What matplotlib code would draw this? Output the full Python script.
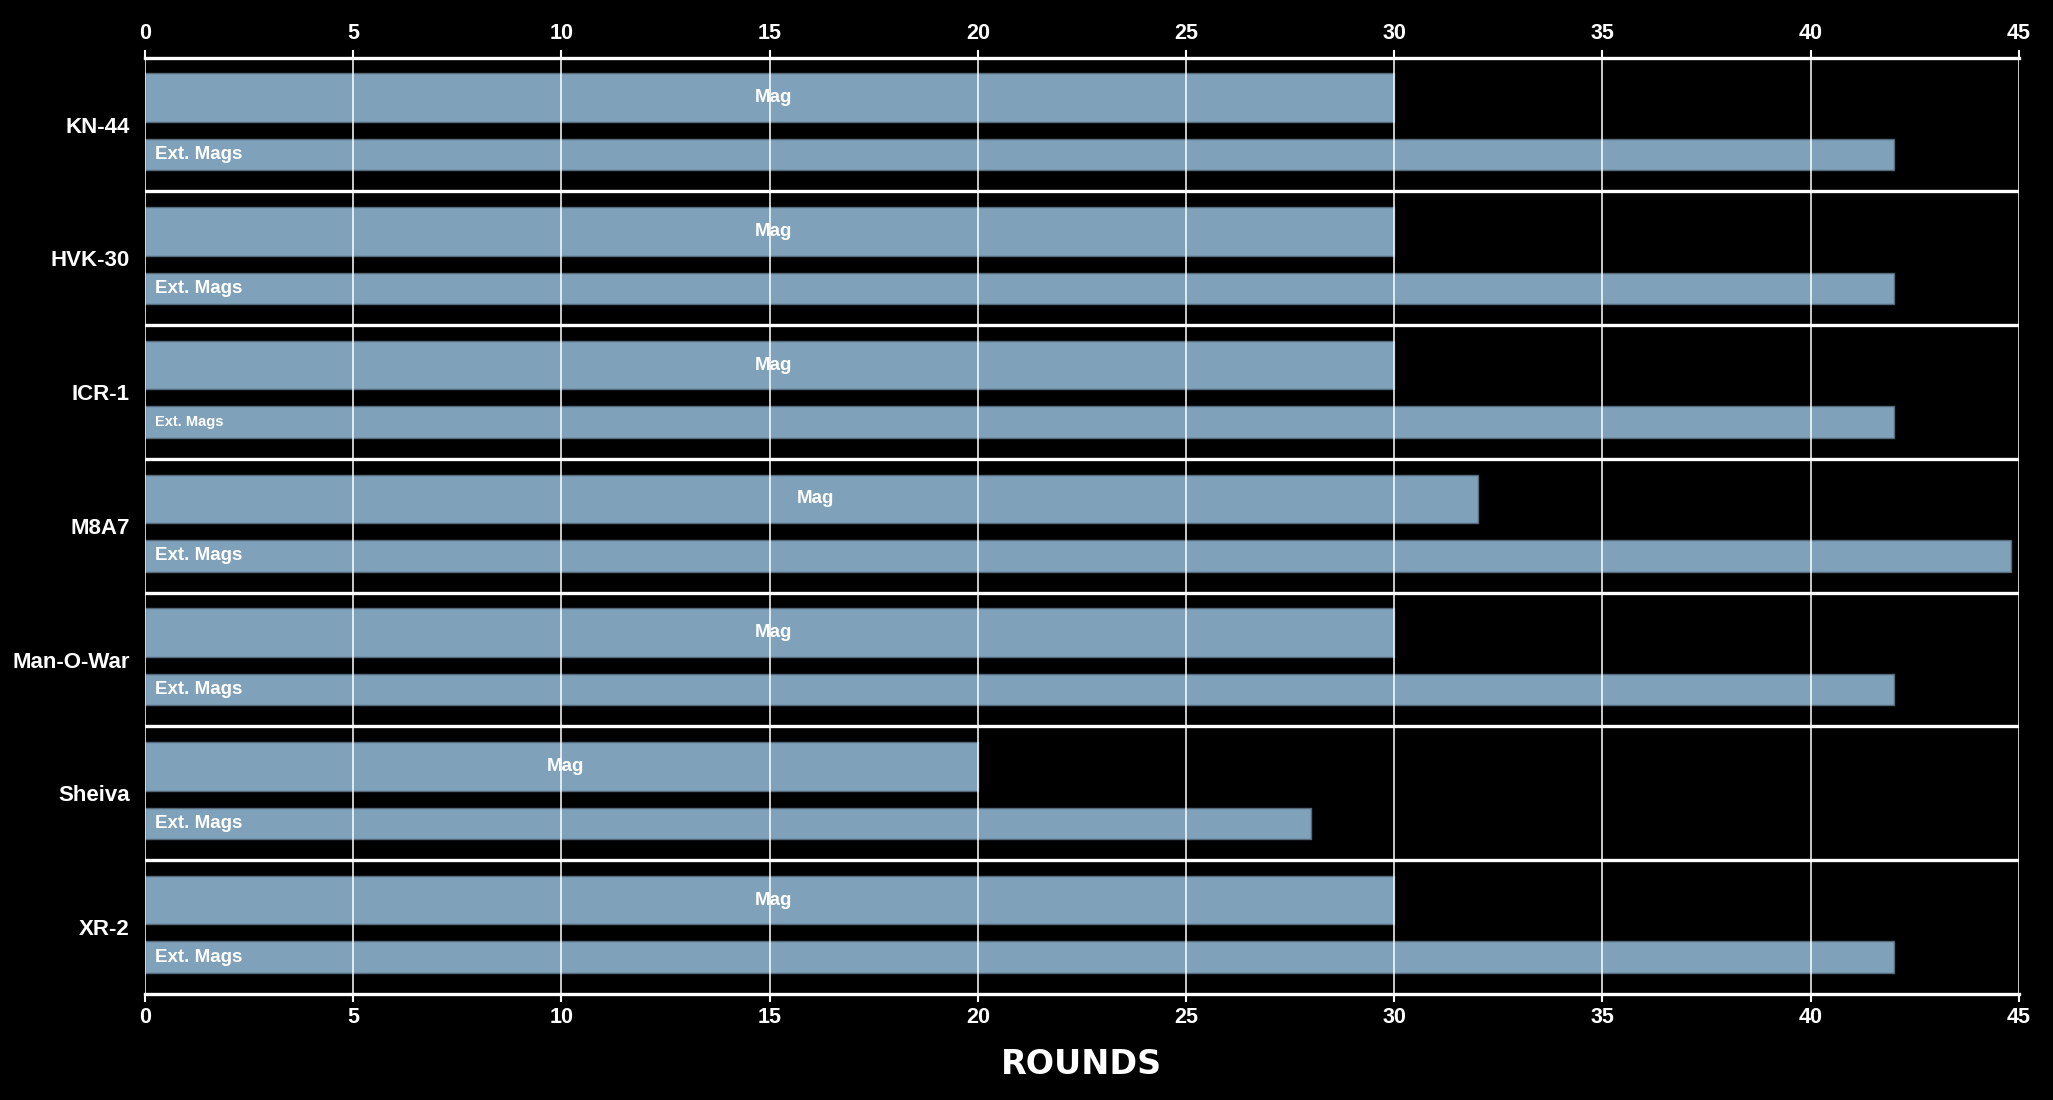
import matplotlib

matplotlib.use("Agg")
import matplotlib.pyplot as plt
import numpy as np

# magazine capacities per weapon
weapons = ["KN-44", "HVK-30", "ICR-1", "M8A7", "Man-O-War", "Sheiva", "XR-2"]
mag_rounds = [30, 30, 30, 32, 30, 20, 30]
ext_rounds = [42, 42, 42, 44.8, 42, 28, 42]
mag_label = "Mag"
ext_label = "Ext. Mags"
x_ticks = [0, 5, 10, 15, 20, 25, 30, 35, 40, 45]

FONT = ["Liberation Sans", "DejaVu Sans"]
BAR = "#7fa1ba"
EDGE = "#56697a"

plt.rcParams["font.family"] = FONT

fig = plt.figure(figsize=(20.53, 11.0), dpi=100, facecolor="black")
ax = fig.add_axes([0.0706, 0.0964, 0.9128, 0.8512], facecolor="black")

n = len(weapons)
rows = np.arange(n)
mag_y = rows + 0.299
ext_y = rows + 0.725

ax.barh(mag_y, mag_rounds, height=0.363, color=BAR, edgecolor=EDGE,
        linewidth=1.0, zorder=2)
ax.barh(ext_y, ext_rounds, height=0.235, color=BAR, edgecolor=EDGE,
        linewidth=1.0, zorder=2)

for i, name in enumerate(weapons):
    ax.annotate(mag_label, (mag_rounds[i] / 2, mag_y[i]), xytext=(3, 0),
                textcoords="offset points", color="white",
                fontsize=13.5, fontweight="bold", ha="center", va="center",
                zorder=4)
    small = name == "ICR-1"
    ax.annotate(ext_label, (0, ext_y[i]), xytext=(7, 0),
                textcoords="offset points", color="white",
                fontsize=10.5 if small else 13.5, fontweight="bold",
                ha="left", va="center", zorder=4)

# group separators
for b in range(1, n):
    ax.axhline(b, color="white", linewidth=2.4, zorder=3)

ax.set_xlim(0, 45)
ax.set_ylim(n, 0)
ax.set_xticks(x_ticks)
ax.grid(axis="x", color="white", linewidth=1.1, zorder=3)
ax.set_axisbelow(False)

ax.set_yticks(rows + 0.5)
ax.set_yticklabels(weapons)
ax.tick_params(axis="y", length=0, pad=11, labelsize=16, labelcolor="white")
ax.tick_params(axis="x", top=True, labeltop=True, bottom=True,
               labelbottom=True, colors="white", labelsize=15.5,
               length=6, width=1.5, direction="out")
for lab in ax.get_xticklabels() + ax.get_yticklabels():
    lab.set_fontweight("bold")

for side in ("left", "right"):
    ax.spines[side].set_visible(False)
for side in ("top", "bottom"):
    ax.spines[side].set_color("white")
    ax.spines[side].set_linewidth(2.4)

ax.set_xlabel("ROUNDS", color="white", fontsize=24, fontweight="bold",
              family=["DejaVu Sans"], labelpad=14)

fig.savefig("out.png", dpi=100, facecolor="black")
